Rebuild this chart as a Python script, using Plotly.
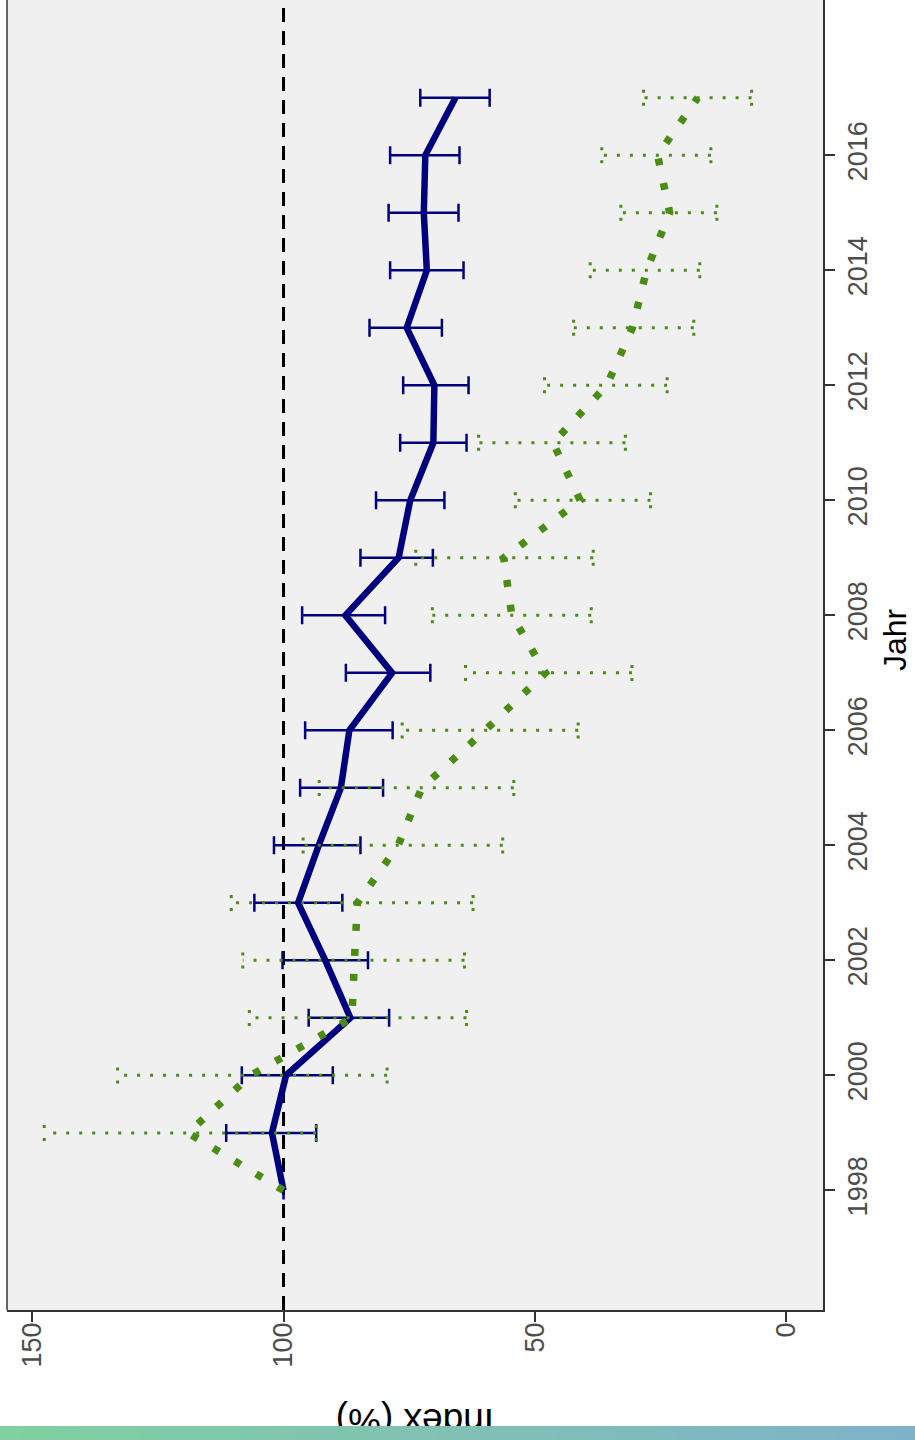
import plotly.graph_objects as go

# ---------------- data ----------------
years = [1998, 1999, 2000, 2001, 2002, 2003, 2004, 2005, 2006, 2007,
         2008, 2009, 2010, 2011, 2012, 2013, 2014, 2015, 2016, 2017]

blue_index = [100.0, 102.3, 99.5, 86.7, 91.7, 97.1, 93.0, 88.6, 86.9, 78.4,
              87.7, 77.1, 74.8, 70.2, 70.0, 75.5, 71.5, 72.1, 71.8, 65.8]
blue_lower = [None, 93.5, 90.2, 79.0, 83.2, 88.3, 84.7, 80.2, 78.3, 70.8,
              79.8, 70.3, 68.0, 63.6, 63.2, 68.5, 64.2, 65.2, 65.0, 59.0]
blue_upper = [None, 111.4, 108.3, 95.0, 100.2, 105.8, 101.9, 96.7, 95.7, 87.6,
              96.3, 84.7, 81.6, 76.8, 76.2, 82.9, 78.8, 79.1, 78.8, 72.8]

green_index = [100.0, 119.0, 106.5, 86.4, 85.9, 85.3, 77.2, 72.5, 59.9, 47.9,
               54.6, 56.2, 41.0, 46.4, 35.7, 30.6, 27.8, 23.2, 25.6, 17.6]
green_lower = [None, 93.5, 79.4, 63.6, 64.0, 62.3, 56.4, 54.2, 41.4, 30.7,
               38.8, 38.4, 27.0, 32.0, 23.7, 18.4, 17.2, 13.8, 15.0, 6.9]
green_upper = [None, 147.6, 133.0, 106.8, 108.1, 110.4, 96.1, 92.9, 76.4, 63.8,
               70.4, 73.7, 53.9, 61.2, 48.1, 42.3, 39.0, 32.9, 36.7, 28.4]

reference_level = 100
index_ticks = [0, 50, 100, 150]
year_ticks = [1998, 2000, 2002, 2004, 2006, 2008, 2010, 2012, 2014, 2016]

# ---------------- style ----------------
W, H = 915, 1440
ML, MR, MT, MB = 7, 92, 0, 130
X_RANGE = [155.0, -7.3]
Y_RANGE = [1995.92, 2018.70]
NAVY = "#00007F"
GREEN = "#4A8C14"
CAP = 0.14  # half cap length in years (style)

fig = go.Figure()

# dashed reference line across whole panel
fig.add_trace(go.Scatter(
    x=[reference_level, reference_level], y=Y_RANGE, mode="lines",
    line=dict(color="black", width=3, dash="14px,9px"), hoverinfo="skip"))

# blue series with error bars
plus = [None if u is None else u - v for u, v in zip(blue_upper, blue_index)]
minus = [None if l is None else v - l for l, v in zip(blue_lower, blue_index)]
fig.add_trace(go.Scatter(
    x=blue_index, y=years, mode="lines",
    line=dict(color=NAVY, width=6.5),
    error_x=dict(type="data", symmetric=False, array=plus, arrayminus=minus,
                 color=NAVY, thickness=2.5, width=9)))

# green dotted error bars (drawn as line segments)
ex, ey = [], []
for yr, lo, hi in zip(years, green_lower, green_upper):
    if lo is None:
        continue
    ex += [lo, hi, None, lo, lo, None, hi, hi, None]
    ey += [yr, yr, None, yr - CAP, yr + CAP, None, yr - CAP, yr + CAP, None]
fig.add_trace(go.Scatter(
    x=ex, y=ey, mode="lines", connectgaps=False,
    line=dict(color=GREEN, width=3, dash="3px,10px"), hoverinfo="skip"))

# green dotted line
fig.add_trace(go.Scatter(
    x=green_index, y=years, mode="lines",
    line=dict(color=GREEN, width=7.5, dash="7px,18px")))

plot_w = W - ML - MR
plot_h = H - MT - MB

def px_x(p):
    return (p - ML) / plot_w

def px_y(p):
    return (H - MB - p) / plot_h

# left panel border
fig.add_shape(type="line", xref="paper", yref="paper", x0=0, x1=0, y0=0, y1=1,
              line=dict(color="#333333", width=1.5))

# gradient strip at the bottom
c0 = (128, 208, 160)
c1 = (127, 178, 201)
n = 46
for i in range(n):
    t = i / (n - 1)
    col = "rgb(%d,%d,%d)" % tuple(round(a + (b - a) * t) for a, b in zip(c0, c1))
    fig.add_shape(type="rect", xref="paper", yref="paper",
                  x0=px_x(i * W / n), x1=px_x((i + 1) * W / n + 1),
                  y0=px_y(1426), y1=px_y(1441),
                  line=dict(width=0), fillcolor=col, layer="above")

fig.add_annotation(text="Jahr", xref="paper", yref="paper",
                   x=px_x(895), y=px_y(639), xanchor="center", yanchor="middle",
                   textangle=-90, showarrow=False,
                   font=dict(size=32, color="black"))
fig.add_annotation(text="Index (%)", xref="paper", yref="paper",
                   x=0.5, y=px_y(1399), xanchor="center", yanchor="top",
                   textangle=180, showarrow=False, height=25, valign="bottom",
                   font=dict(size=37, color="black"))

fig.update_layout(
    width=W, height=H, margin=dict(l=ML, r=MR, t=MT, b=MB, pad=0),
    paper_bgcolor="white", plot_bgcolor="#F0F0F0", showlegend=False,
    font=dict(family="Liberation Sans, Arial, sans-serif", color="#4D4D4D"))

fig.update_xaxes(range=X_RANGE, tickvals=index_ticks,
                 ticktext=[str(v) for v in index_ticks], tickangle=-90,
                 ticks="outside", ticklen=10, tickwidth=2, tickcolor="#333333",
                 ticklabelstandoff=-10,
                 showgrid=False, zeroline=False, showline=True,
                 linecolor="#333333", linewidth=1.5,
                 tickfont=dict(size=27, color="#4D4D4D"))
fig.update_yaxes(range=Y_RANGE, side="right", tickvals=year_ticks,
                 ticktext=[str(v) for v in year_ticks], tickangle=-90,
                 ticks="outside", ticklen=10, tickwidth=2, tickcolor="#333333",
                 showgrid=False, zeroline=False, showline=True,
                 linecolor="#333333", linewidth=1.5,
                 tickfont=dict(size=27, color="#4D4D4D"))

fig.write_html("out.html")
